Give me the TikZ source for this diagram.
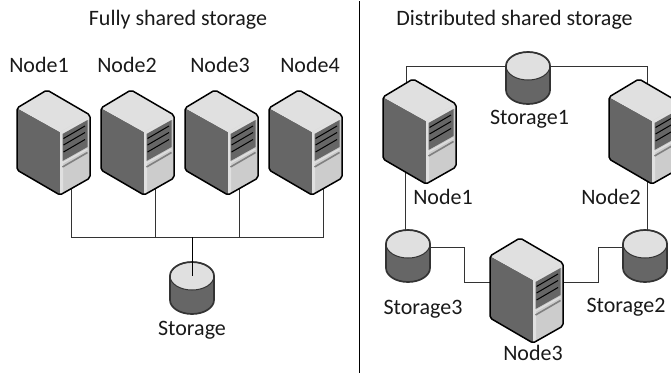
\documentclass[tikz,border=0pt]{standalone}
\usepackage{fontspec}
\setmainfont{Carlito}
\usetikzlibrary{backgrounds}
\definecolor{srvdark}{HTML}{666666}
\definecolor{srvtop}{HTML}{E0E0E0}
\definecolor{srvfront}{HTML}{CCCCCC}
\definecolor{wire}{HTML}{333333}
\definecolor{drumline}{HTML}{333333}
\tikzset{
  x=1bp,y=-1bp,
  wire/.style={draw=wire,line width=0.9bp},
  lbl/.style={font=\fontsize{22bp}{24bp}\selectfont,text=black!90,inner sep=0pt,anchor=base},
  server/.pic={
    \fill[srvdark] (-30,18) -- (13,42) -- (13,105) -- (-30,80) -- cycle;
    \fill[srvtop] (0,0) -- (43,25) -- (13,42) -- (-30,18) -- cycle;
    \fill[srvfront] (13,42) -- (43,25) -- (43,88) -- (13,105) -- cycle;
    \fill[srvtop] (13,42) -- (43,25) -- (43,29) -- (16,44) -- (16,103) -- (13,105) -- cycle;
    \fill[srvdark] (15.5,44) -- (40.5,30) -- (40.5,57) -- (15.5,71) -- cycle;
    \draw[black,line width=1bp] (16.5,48.5) -- (38,36) (16.5,55) -- (38,42.5) (16.5,62) -- (38,49.5);
    \draw[srvtop,line width=1.2bp] (15.5,73) -- (40.5,59);
    \draw[gray,line width=1.6bp] (15.5,77) -- (40.5,62.5);
    \draw[black,line width=1.5bp,rounded corners=2bp,line join=round] (0,0) -- (43,25) -- (43,88) -- (13,105) -- (-30,80) -- (-30,18) -- cycle;
    \coordinate (-base) at (24,98);
    \coordinate (-west) at (-30,44);
    \coordinate (-east) at (43,44);
    \coordinate (-nw) at (-7,4);
    \coordinate (-ne) at (8,4);
    \coordinate (-sw) at (-8,70);
    \coordinate (-se) at (8,95);
  },
  drum/.pic={
    \fill[srvdark] (-22,14) -- (22,14) -- (22,38) .. controls (22,45.7) and (12.1,52) .. (0,52) .. controls (-12.1,52) and (-22,45.7) .. (-22,38) -- cycle;
    \fill[srvtop] (0,14) ellipse[x radius=22,y radius=14];
    \draw[drumline,line width=1.7bp] (-22,14) -- (-22,38) .. controls (-22,45.7) and (-12.1,52) .. (0,52) .. controls (12.1,52) and (22,45.7) .. (22,38) -- (22,14);
    \draw[drumline,line width=1.7bp] (22,14) .. controls (22,6.3) and (12.1,0) .. (0,0) .. controls (-12.1,0) and (-22,6.3) .. (-22,14);
    \draw[drumline,line width=1bp] (0,14) ellipse[x radius=22,y radius=14];
    \coordinate (-top) at (0,1);
    \coordinate (-mid) at (0,14);
    \coordinate (-west) at (-21,17);
    \coordinate (-east) at (21,17);
    \coordinate (-sidew) at (-21,14);
    \coordinate (-sidee) at (21,14);
  },
}
\begin{document}
\begin{tikzpicture}
\useasboundingbox (0,0) rectangle (671,373);
\coordinate (bus) at (192,237);
\coordinate (divtop) at (359.5,1);
\coordinate (divbot) at (359.5,373);
\coordinate (stepL) at (464,282);
\coordinate (stepR) at (598,282);
\draw[black,line width=1.5bp] (divtop) -- (divbot);
% servers
\pic (a) at (47,90) {server};
\pic (b) at (131,90) {server};
\pic (c) at (215,90) {server};
\pic (d) at (299,90) {server};
\pic (n) at (413,79) {server};
\pic (m) at (639,79) {server};
\pic (k) at (520,238) {server};
% drums
\pic (s) at (192,262) {drum};
\pic (s1) at (528,52) {drum};
\pic (s2) at (645,230) {drum};
\pic (s3) at (408,230) {drum};
% connectors
\begin{scope}[on background layer]
\draw[wire] (a-base) |- (d-base |- bus) -- (d-base);
\draw[wire] (b-base) -- (b-base |- bus);
\draw[wire] (c-base) -- (c-base |- bus);
\draw[wire] (n-nw) |- (s1-sidew);
\draw[wire] (m-ne) |- (s1-sidee);
\draw[wire] (n-sw) -- (n-sw |- s3-top);
\draw[wire] (m-se) -- (m-se |- s2-top);
\draw[wire] (s3-east) -| (stepL) -- (k-west);
\draw[wire] (k-east) -- (stepR) |- (s2-west);
\end{scope}
\draw[black,line width=0.9bp] (bus) -- (s-mid);
% labels
\node[lbl] (t1) at (178,25) {Fully shared storage};
\node[lbl] (t2) at (514.5,25) {Distributed shared storage};
\node[lbl] (l1) at (39,72) {Node1};
\node[lbl] (l2) at (127,72) {Node2};
\node[lbl] (l3) at (220,72) {Node3};
\node[lbl] (l4) at (310,72) {Node4};
\node[lbl] (l5) at (192,335) {Storage};
\node[lbl] (l6) at (529.5,124) {Storage1};
\node[lbl] (l7) at (443,204) {Node1};
\node[lbl] (l8) at (611,204) {Node2};
\node[lbl] (l9) at (423,314) {Storage3};
\node[lbl] (l10) at (626,312) {Storage2};
\node[lbl] (l11) at (533,360) {Node3};
\end{tikzpicture}
\end{document}
